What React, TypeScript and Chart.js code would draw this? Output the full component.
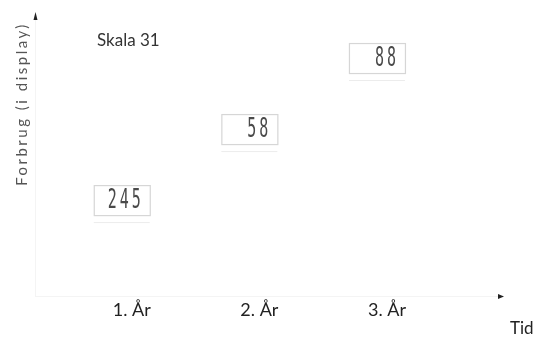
import React, { useEffect, useRef } from "react";
import { Chart, registerables } from "chart.js";

Chart.register(...registerables);

// ---- data ----
const years: string[] = ["1. År", "2. År", "3. År"];
const yearPos: number[] = [1, 2, 3];
const levels: number[] = [1, 2, 3];
const readings: string[] = ["245", "58", "88"];
const yTitle = "Forbrug (i display)";
const xTitle = "Tid";
const scaleNote = "Skala 31";

const displayBoxes = {
  id: "displayBoxes",
  afterDatasetsDraw(chart: any) {
    const ctx = chart.ctx;
    const meta = chart.getDatasetMeta(0);
    const w = 56;
    const h = 30;
    meta.data.forEach((pt: any, i: number) => {
      const x = pt.x - w / 2;
      const y = pt.y - h / 2;
      ctx.save();
      ctx.fillStyle = "#ffffff";
      ctx.fillRect(x, y, w, h);
      ctx.strokeStyle = "#d6d6d6";
      ctx.lineWidth = 1.2;
      ctx.strokeRect(x + 0.5, y + 0.5, w, h);
      ctx.strokeStyle = "#ececec";
      ctx.lineWidth = 1;
      ctx.beginPath();
      ctx.moveTo(x, y + h + 7.5);
      ctx.lineTo(x + w, y + h + 7.5);
      ctx.stroke();
      // digits
      ctx.translate(x + w - 9, pt.y + 1);
      ctx.scale(1, 1.8);
      ctx.font = '15px "DejaVu Sans Mono"';
      (ctx as any).letterSpacing = "3px";
      ctx.textAlign = "right";
      ctx.textBaseline = "middle";
      ctx.fillStyle = "#4a4a4a";
      ctx.fillText(readings[i], 3, 0);
      ctx.restore();
    });
  },
};

const axesAndText = {
  id: "axesAndText",
  beforeDatasetsDraw(chart: any) {
    const ctx = chart.ctx;
    const a = chart.chartArea;
    ctx.save();
    ctx.strokeStyle = "rgba(0,0,0,0.045)";
    ctx.lineWidth = 1;
    ctx.beginPath();
    ctx.moveTo(a.left + 0.5, a.bottom);
    ctx.lineTo(a.left + 0.5, a.top + 6);
    ctx.moveTo(a.left, a.bottom + 0.5);
    ctx.lineTo(a.right - 4, a.bottom + 0.5);
    ctx.stroke();
    // arrowheads
    ctx.fillStyle = "#222";
    ctx.beginPath();
    ctx.moveTo(a.left + 0.5, a.top - 2);
    ctx.lineTo(a.left - 1.5, a.top + 6);
    ctx.lineTo(a.left + 2.5, a.top + 6);
    ctx.closePath();
    ctx.fill();
    ctx.beginPath();
    ctx.moveTo(a.right + 2, a.bottom + 0.5);
    ctx.lineTo(a.right - 4, a.bottom - 2);
    ctx.lineTo(a.right - 4, a.bottom + 3);
    ctx.closePath();
    ctx.fill();
    // y title
    ctx.save();
    ctx.translate(a.left - 13, 104);
    ctx.rotate(-Math.PI / 2);
    ctx.font = "15px Lato";
    (ctx as any).letterSpacing = "2.5px";
    ctx.fillStyle = "#555";
    ctx.textAlign = "center";
    ctx.textBaseline = "middle";
    ctx.fillText(yTitle, 0, 0);
    ctx.restore();
    // scale note
    ctx.font = "17px Lato";
    ctx.fillStyle = "#333";
    ctx.textAlign = "left";
    ctx.textBaseline = "alphabetic";
    ctx.fillText(scaleNote, 97, 46);
    // x title
    ctx.font = "17px Lato";
    ctx.fillStyle = "#222";
    ctx.fillText(xTitle, 510, 334);
    ctx.restore();
  },
};

export default function App() {
  const ref = useRef<HTMLCanvasElement | null>(null);
  useEffect(() => {
    if (!ref.current) return;
    const chart = new Chart(ref.current, {
      type: "scatter",
      data: {
        datasets: [
          {
            data: levels.map((v, i) => ({ x: yearPos[i], y: v })),
            pointRadius: 0,
            showLine: false,
          },
        ],
      },
      options: {
        animation: false,
        responsive: false,
        layout: { padding: { left: 35, right: 32, top: 14, bottom: 0 } },
        plugins: { legend: { display: false }, tooltip: { enabled: false } },
        scales: {
          x: {
            type: "linear",
            min: 0.32,
            max: 3.98,
            grid: { display: false },
            border: { display: false },
            afterBuildTicks: (s: any) => {
              s.ticks = yearPos.map((v) => ({ value: v }));
            },
            afterFit: (s: any) => {
              s.height = 46;
            },
            ticks: {
              padding: -5,
              labelOffset: 10,
              color: "#222",
              font: { family: "Lato", size: 18 },
              callback: (v: any) => years[yearPos.indexOf(Number(v))] ?? "",
            },
          },
          y: {
            type: "linear",
            display: false,
            min: -0.35,
            max: 3.62,
          },
        },
      },
      plugins: [axesAndText, displayBoxes],
    });
    return () => chart.destroy();
  }, []);
  return (
    <div style={{ position: "fixed", left: 0, top: 0, width: 534, height: 342, background: "#fff" }}>
      <canvas ref={ref} width={534} height={342} />
    </div>
  );
}
